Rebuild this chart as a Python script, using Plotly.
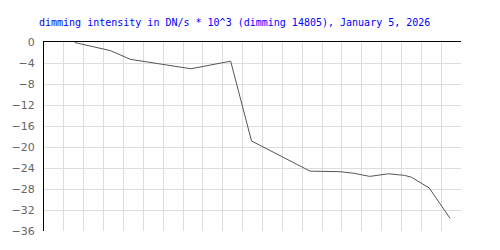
import plotly.graph_objects as go

# x positions in grid units (one vertical grid cell per unit), y in DN/s * 10^3
x_vals = [1.55, 3.35, 4.35, 7.4, 9.4, 10.45, 13.4, 14.9, 15.6, 16.4, 17.35, 18.15, 18.5, 19.4, 20.45]
y_vals = [-0.1, -1.65, -3.3, -5.1, -3.65, -18.85, -24.6, -24.7, -25.0, -25.6, -25.1, -25.4, -25.75, -27.8, -33.6]

title_text = "dimming intensity in DN/s * 10^3 (dimming 14805), January 5, 2026"
y_ticks = [0, -4, -8, -12, -16, -20, -24, -28, -32, -36]

fig = go.Figure()
fig.add_trace(go.Scatter(x=x_vals, y=y_vals, mode="lines",
                         line=dict(color="#555555", width=1), hoverinfo="skip"))

fig.update_layout(
    width=500, height=250,
    margin=dict(l=40, r=39, t=42, b=17),
    paper_bgcolor="white", plot_bgcolor="white",
    showlegend=False,
    title=dict(text=title_text, x=0.078, xref="container", xanchor="left",
               y=1, yref="container", yanchor="top", pad=dict(t=19),
               font=dict(family="DejaVu Sans Mono", size=10, color="#0000ff")),
    xaxis=dict(range=[0, 21], dtick=1, tick0=0, showticklabels=False,
               showgrid=True, gridcolor="#dddddd", gridwidth=1,
               zeroline=False, showline=True, linecolor="black", linewidth=1,
               side="top", ticks=""),
    yaxis=dict(range=[-36, 0], tickvals=y_ticks, ticktext=[str(v).replace("-", "\u2212") for v in y_ticks],
               showgrid=True, gridcolor="#dddddd", gridwidth=1,
               zeroline=False, showline=True, linecolor="black", linewidth=1,
               ticks="", ticklabelstandoff=6,
               tickfont=dict(family="DejaVu Sans", size=11, color="#666666")),
)

fig.write_html("out.html")
